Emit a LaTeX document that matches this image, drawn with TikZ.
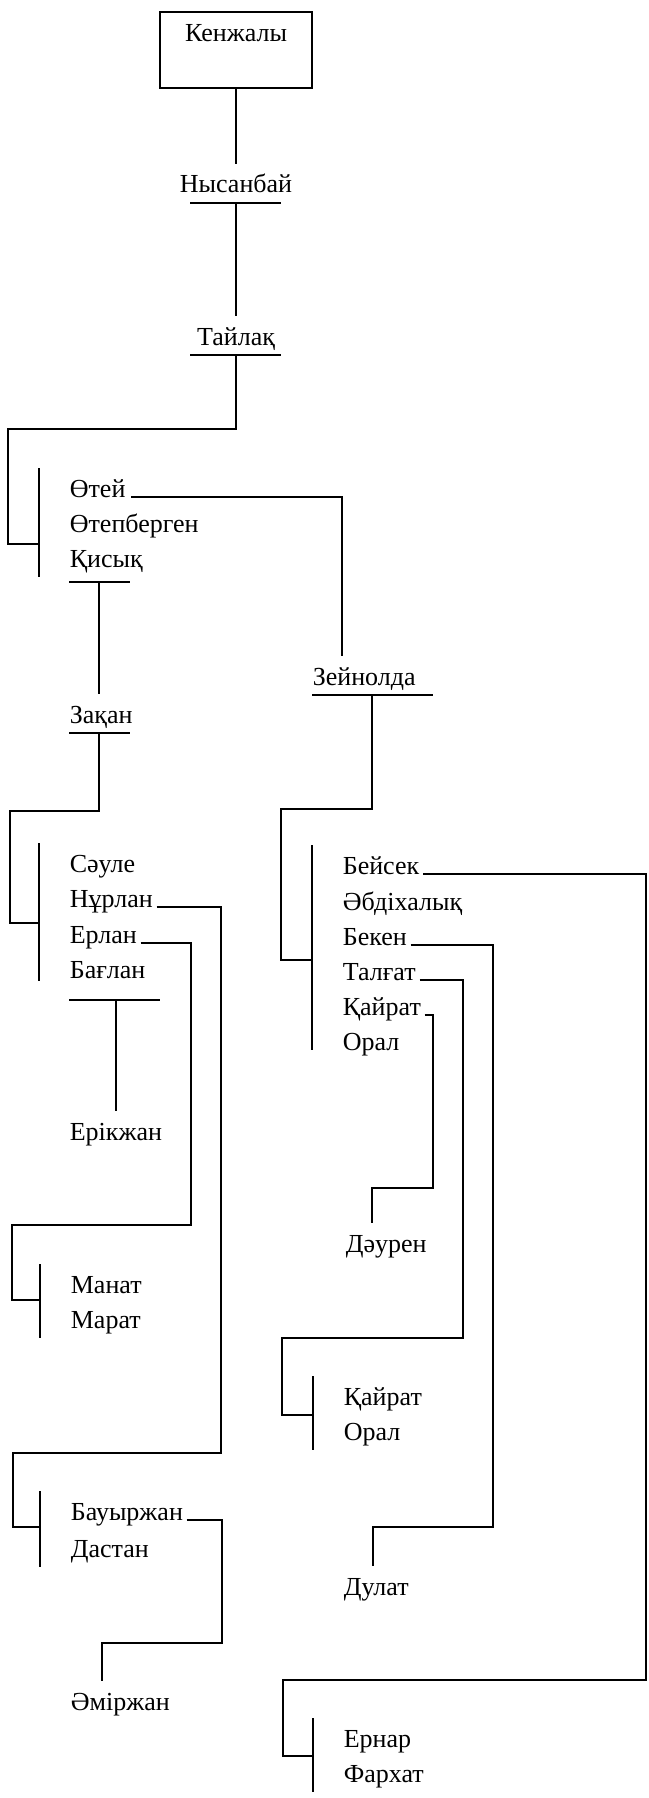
\documentclass[tikz,border=0pt]{standalone}
\usepackage{fontspec}
\setmainfont{Liberation Serif}
\usepackage{tikz}

\begin{document}
\begin{tikzpicture}[x=1pt, y=1pt, line width=1.7pt,
  every node/.style={font=\fontsize{26}{30}\selectfont, inner sep=0pt},
  person/.style={anchor=base west, text height=28pt, text depth=9pt},
  rootbox/.style={draw, line width=2.2pt, anchor=base, minimum width=152pt, text height=30pt, text depth=46pt}]
\useasboundingbox (0,0) rectangle (648,-1798);
\node[rootbox] (kenzhaly) at (236,-42) {Кенжалы};
\node[person, anchor=base] (nysanbai) at (236,-193) {Нысанбай};
\node[person, anchor=base] (tailaq) at (236,-345) {Тайлақ};
\node[person] (otei) at (69,-497) {Өтей};
\node[person] (otepbergen) at (69,-532) {Өтепберген};
\node[person] (qisyq) at (69,-567) {Қисық};
\node[person] (zeinolda) at (312,-685) {Зейнолда};
\node[person] (zaqan) at (69,-723) {Зақан};
\node[person] (saule) at (69,-872) {Сәуле};
\node[person] (nurlan) at (69,-907) {Нұрлан};
\node[person] (erlan) at (69,-943) {Ерлан};
\node[person] (baglan) at (69,-978) {Бағлан};
\node[person] (erikzhan) at (69,-1140) {Ерікжан};
\node[person] (manat) at (70,-1293) {Манат};
\node[person] (marat) at (70,-1328) {Марат};
\node[person] (bauyrzhan) at (70,-1520) {Бауыржан};
\node[person] (dastan) at (70,-1557) {Дастан};
\node[person] (amirzhan) at (70,-1710) {Әміржан};
\node[person] (beisek) at (342,-874) {Бейсек};
\node[person] (abdikhalyq) at (342,-910) {Әбдіхалық};
\node[person] (beken) at (342,-945) {Бекен};
\node[person] (talgat) at (342,-980) {Талғат};
\node[person] (qairat) at (342,-1015) {Қайрат};
\node[person] (oral) at (342,-1050) {Орал};
\node[person] (dauren) at (345,-1252) {Дәурен};
\node[person] (qairatB) at (343,-1405) {Қайрат};
\node[person] (oralB) at (343,-1440) {Орал};
\node[person] (dulat) at (343,-1595) {Дулат};
\node[person] (ernar) at (343,-1747) {Ернар};
\node[person] (farkhat) at (343,-1782) {Фархат};
\draw ([xshift=-46]nysanbai.south) -- ([xshift=45]nysanbai.south);
\draw ([xshift=-46]tailaq.south) -- ([xshift=45]tailaq.south);
\draw ([yshift=-5]qisyq.south west) -- ++(61,0);
\draw (zaqan.south west) -- ++(61,0);
\draw (zeinolda.south west) -- ++(121,0);
\draw ([yshift=-12]baglan.south west) -- ++(91,0);
\draw ([xshift=-30]otei.north west) -- ([xshift=-30]qisyq.south west);
\draw ([xshift=-30]saule.north west) -- ([shift={(-30,7)}]baglan.south west);
\draw ([xshift=-30]manat.north west) -- ([xshift=-30]marat.south west);
\draw ([xshift=-30]bauyrzhan.north west) -- ([xshift=-30]dastan.south west);
\draw ([xshift=-30]beisek.north west) -- ([xshift=-30]oral.base west);
\draw ([xshift=-30]qairatB.north west) -- ([xshift=-30]oralB.south west);
\draw ([xshift=-30]ernar.north west) -- ([xshift=-30]farkhat.south west);
\draw (kenzhaly.south) -- (nysanbai.north);
\draw (nysanbai.south) -- (tailaq.north);
\draw (tailaq.south) -- ++(0,-74) -- ++(-228,0) |- ([shift={(-30,-12)}]otepbergen.base west);
\draw ([xshift=5]otei.base east) -| ([xshift=30]zeinolda.north west);
\draw ([shift={(30,-5)}]qisyq.south west) -- ([xshift=30]zaqan.north west);
\draw ([xshift=30]zaqan.south west) -- ++(0,-78) -- ++(-89,0) |- ([shift={(-30,-16)}]nurlan.base west);
\draw ([xshift=60]zeinolda.south west) -- ++(0,-114) -- ++(-91,0) |- ([shift={(-30,-15)}]beken.base west);
\draw ([shift={(47,-12)}]baglan.south west) -- ([xshift=47]erikzhan.north west);
\draw ([xshift=3]nurlan.base east) -- ([xshift=152]nurlan.base west) -- ++(0,-546) -- ++(-208,0) |- ([shift={(-30,-7)}]bauyrzhan.base west);
\draw ([xshift=3]erlan.base east) -- ([xshift=122]erlan.base west) -- ++(0,-282) -- ++(-179,0) |- ([shift={(-30,-7)}]manat.base west);
\draw ([xshift=3]bauyrzhan.base east) -- ([xshift=152]bauyrzhan.base west) -- ++(0,-123) -| ([xshift=32]amirzhan.north west);
\draw ([xshift=3]beisek.base east) -- ([xshift=304]beisek.base west) -- ++(0,-806) -- ++(-363,0) |- ([shift={(-30,-9)}]ernar.base west);
\draw ([xshift=3]beken.base east) -- ([xshift=151]beken.base west) -- ++(0,-582) -| ([xshift=30]dulat.north west);
\draw ([xshift=3]talgat.base east) -- ([xshift=121]talgat.base west) -- ++(0,-358) -- ++(-181,0) |- ([shift={(-30,-10)}]qairatB.base west);
\draw ([xshift=3]qairat.base east) -- ([xshift=91]qairat.base west) -- ++(0,-173) -| ([xshift=27]dauren.north west);
\end{tikzpicture}
\end{document}
